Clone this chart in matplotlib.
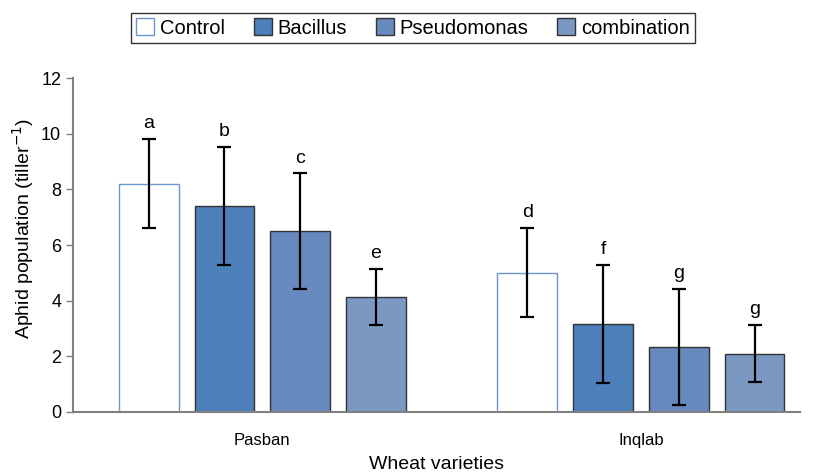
import matplotlib
matplotlib.use("Agg")
import matplotlib.pyplot as plt
import numpy as np

plt.rcParams['font.family'] = ['Liberation Sans', 'DejaVu Sans']

groups = ["Pasban", "Inqlab"]
treatments = ["Control", "Bacillus", "Pseudomonas", "combination"]
means = {
    "Control":     [8.2, 5.0],
    "Bacillus":    [7.4, 3.15],
    "Pseudomonas": [6.5, 2.33],
    "combination": [4.13, 2.1],
}
errs = {
    "Control":     [1.6, 1.6],
    "Bacillus":    [2.12, 2.12],
    "Pseudomonas": [2.07, 2.08],
    "combination": [1.01, 1.03],
}
letters = {
    "Control":     ["a", "d"],
    "Bacillus":    ["b", "f"],
    "Pseudomonas": ["c", "g"],
    "combination": ["e", "g"],
}
yticks = [0, 2, 4, 6, 8, 10, 12]

faces = {"Control": "white", "Bacillus": "#4d7fbb", "Pseudomonas": "#6689be", "combination": "#7b98c3"}
edges = {"Control": "#6b96cc", "Bacillus": "#333333", "Pseudomonas": "#333333", "combination": "#333333"}

fig = plt.figure(figsize=(8.14, 4.76), dpi=100)
ax = fig.add_axes([73/814, 1-412/476, (800-73)/814, (412-78)/476])

step = 0.2
width = 0.158
gx = np.arange(len(groups))
for i, t in enumerate(treatments):
    x = gx + (i - 1.5) * step
    ax.bar(x, means[t], width=width, color=faces[t], edgecolor=edges[t], linewidth=1.0,
           label=t, zorder=2)
    ax.errorbar(x, means[t], yerr=errs[t], fmt='none', ecolor='black', elinewidth=1.6,
                capsize=5, capthick=1.6, zorder=3)
    for xi, m, e, l in zip(x, means[t], errs[t], letters[t]):
        ax.annotate(l, (xi, m + e), xytext=(0, 5), textcoords='offset points',
                    ha='center', va='bottom', fontsize=14)

ax.set_xlim(-0.50, 1.42)
ax.set_ylim(0, 12)
ax.set_yticks(yticks)
ax.set_xticks(gx)
ax.set_xticklabels(groups, fontsize=12)
ax.tick_params(axis='x', length=0, pad=15)
ax.tick_params(axis='y', length=5, width=1, color='#808080', labelsize=13, direction='out')
for s in ['top', 'right']:
    ax.spines[s].set_visible(False)
for s in ['left', 'bottom']:
    ax.spines[s].set_color('#808080')
    ax.spines[s].set_linewidth(1.5)
ax.set_ylabel("Aphid population (tiller$^{-1}$)", fontsize=14, va='center')
ax.yaxis.set_label_coords(-0.0688, 0.551)
ax.set_xlabel("Wheat varieties", fontsize=14, labelpad=6)

leg = fig.legend(loc='center', bbox_to_anchor=(413/814, 1-28/476), ncol=4, frameon=True,
                 fontsize=14.5, handlelength=0.9, handleheight=0.9, handletextpad=0.3,
                 columnspacing=1.4, borderpad=0.25, fancybox=False)
leg.get_frame().set_edgecolor('black')
leg.get_frame().set_linewidth(1.0)

fig.savefig("out.png", dpi=100)
